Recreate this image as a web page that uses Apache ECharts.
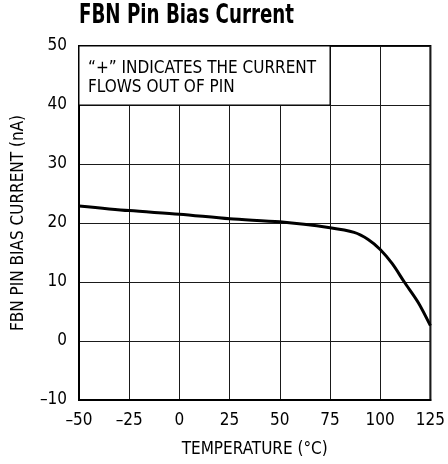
<!DOCTYPE html>
<html><head><meta charset="utf-8">
<script src="https://cdn.jsdelivr.net/npm/echarts@6/dist/echarts.min.js"></script>
<style>html,body{margin:0;padding:0;background:#fff}#c{width:448px;height:464px}</style>
</head><body><div id="c"></div>
<script>
const temperatures = [-50, -25, 0, 25, 50, 75, 87, 94, 100, 106, 112, 119, 125];
const biasCurrent = [22.9, 22.1, 21.5, 20.7, 20.2, 19.2, 18.4, 17.2, 15.5, 13.1, 10.0, 6.5, 2.6];
const xTicks = [-50, -25, 0, 25, 50, 75, 100, 125];
const yTicks = [-10, 0, 10, 20, 30, 40, 50];
const titleText = 'FBN Pin Bias Current';
const xName = 'TEMPERATURE (°C)';
const yName = 'FBN PIN BIAS CURRENT (nA)';
const noteLines = ['“+” INDICATES THE CURRENT', 'FLOWS OUT OF PIN'];
const noteBox = [[-50, 40], [75, 50]];

const FONT = '"Liberation Sans Narrow","DejaVu Sans Condensed",sans-serif';
const chart = echarts.init(document.getElementById('c'), null, {renderer: 'canvas'});
const minus = v => (v < 0 ? '\u2013' + Math.abs(v) : String(v));
chart.setOption({
  animation: false,
  grid: {left: 79, right: 15, top: 46, bottom: 64, show: true, borderColor: '#000', borderWidth: 2, backgroundColor: 'transparent'},
  xAxis: {type: 'value', min: -50, max: 125, interval: 25,
    name: xName, nameLocation: 'middle', nameGap: 41,
    nameTextStyle: {fontFamily: FONT, fontSize: 17, color: '#000'},
    axisLine: {show: true, onZero: false, lineStyle: {color: '#000', width: 2}},
    axisTick: {show: false},
    axisLabel: {fontFamily: FONT, fontSize: 17, color: '#000', margin: 12, formatter: minus},
    splitLine: {show: true, lineStyle: {color: '#1a1a1a', width: 1}}},
  yAxis: {type: 'value', min: -10, max: 50, interval: 10,
    name: yName, nameLocation: 'middle', nameGap: 52, nameRotate: 90,
    nameTextStyle: {fontFamily: FONT, fontSize: 17, color: '#000'},
    axisLine: {show: true, onZero: false, lineStyle: {color: '#000', width: 2}},
    axisTick: {show: false},
    axisLabel: {fontFamily: FONT, fontSize: 17, color: '#000', margin: 12, formatter: minus},
    splitLine: {show: true, lineStyle: {color: '#1a1a1a', width: 1}}},
  series: [{
    type: 'line', smooth: 0.3, symbol: 'none',
    data: temperatures.map((t, i) => [t, biasCurrent[i]]),
    lineStyle: {color: '#000', width: 3},
    markArea: {silent: true,
      itemStyle: {color: '#fff', borderColor: '#000', borderWidth: 1},
      data: [[{coord: noteBox[0]}, {coord: noteBox[1]}]]}
  }]
});
const tl = chart.convertToPixel({gridIndex: 0}, [noteBox[0][0], noteBox[1][1]]);
chart.setOption({
  graphic: [
    {type: 'text', x: 79, y: 3, scaleX: 0.78, z: 10,
      style: {text: titleText, font: 'bold 26px ' + FONT, fill: '#000'}},
    {type: 'text', x: tl[0] + 9, y: tl[1] + 13, z: 10,
      style: {text: noteLines.join('\n'), font: '17px ' + FONT, lineHeight: 19, fill: '#000'}}
  ]
});
</script></body></html>
